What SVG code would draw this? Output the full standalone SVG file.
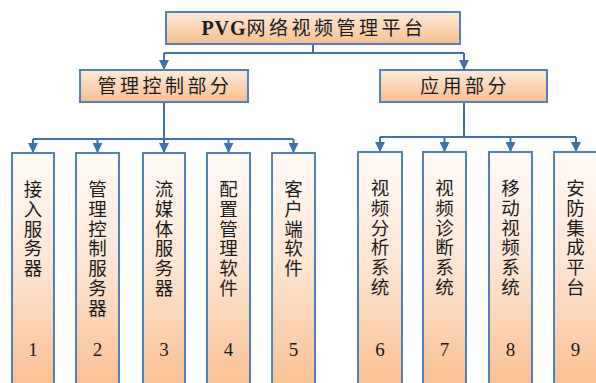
<svg xmlns="http://www.w3.org/2000/svg" width="596" height="383" viewBox="0 0 596 383">
<defs>
<linearGradient id="gH" x1="0" y1="0" x2="0" y2="1">
<stop offset="0" stop-color="#fdeadb"/>
<stop offset="1" stop-color="#f9bf8e"/>
</linearGradient>
<linearGradient id="gV" x1="0" y1="0" x2="0" y2="1">
<stop offset="0" stop-color="#fffbf8"/>
<stop offset="0.45" stop-color="#fde6d4"/>
<stop offset="1" stop-color="#f8bf90"/>
</linearGradient>
<marker id="arr" viewBox="0 0 10 10" refX="10" refY="5" markerWidth="5" markerHeight="5" markerUnits="strokeWidth" orient="auto">
<path d="M0,0 L10,5 L0,10 Z" fill="#3e72ae"/>
</marker>
</defs>
<style>
.box{stroke:#4f81bd;stroke-width:2}
.h{fill:url(#gH)}
.v{fill:url(#gV)}
.ln{fill:none;stroke:#3e72ae;stroke-width:2}
text{fill:#1b1b1b;font-family:"Liberation Serif","Noto Sans CJK SC",serif}
.t{font-size:19px;text-anchor:middle;letter-spacing:3.5px}
.c{font-size:18.5px;text-anchor:middle}
.n{font-size:19px;text-anchor:middle}
</style>
<rect width="596" height="383" fill="#ffffff"/>
<g id="connectors">
<path class="ln" d="M313,44 V53"/>
<path class="ln" d="M164,53 H464"/>
<path class="ln" d="M164,53 V70" marker-end="url(#arr)"/>
<path class="ln" d="M464,53 V70" marker-end="url(#arr)"/>
<path class="ln" d="M164,102 V139"/>
<path class="ln" d="M33,139 H293.5"/>
<path class="ln" d="M33,139 V153" marker-end="url(#arr)"/>
<path class="ln" d="M97.5,139 V153" marker-end="url(#arr)"/>
<path class="ln" d="M164,139 V153" marker-end="url(#arr)"/>
<path class="ln" d="M228.5,139 V153" marker-end="url(#arr)"/>
<path class="ln" d="M293.5,139 V153" marker-end="url(#arr)"/>
<path class="ln" d="M464,102 V137"/>
<path class="ln" d="M380,137 H576"/>
<path class="ln" d="M380,137 V152" marker-end="url(#arr)"/>
<path class="ln" d="M444.5,137 V152" marker-end="url(#arr)"/>
<path class="ln" d="M510.5,137 V152" marker-end="url(#arr)"/>
<path class="ln" d="M576,137 V152" marker-end="url(#arr)"/>
</g>
<g id="root">
<rect class="box h" x="166" y="12" width="294" height="32"/>
<text class="t" x="314" y="35"><tspan font-weight="bold" letter-spacing="1px" font-size="20px">PVG</tspan>网络视频管理平台</text>
</g>
<g id="mgmt">
<rect class="box h" x="80" y="70" width="168" height="32"/>
<text class="t" x="165" y="93">管理控制部分</text>
</g>
<g id="app">
<rect class="box h" x="380" y="70" width="167" height="32"/>
<text class="t" x="465" y="93">应用部分</text>
</g>
<g id="n1">
<rect class="box v" x="12" y="153" width="42" height="240"/>
<text class="c" x="33"><tspan x="33" y="196">接</tspan><tspan x="33" y="215.8">入</tspan><tspan x="33" y="235.6">服</tspan><tspan x="33" y="255.4">务</tspan><tspan x="33" y="275.2">器</tspan></text>
<text class="n" x="33" y="356">1</text>
</g>
<g id="n2">
<rect class="box v" x="76" y="153" width="43" height="240"/>
<text class="c" x="97.5"><tspan x="97.5" y="196">管</tspan><tspan x="97.5" y="215.8">理</tspan><tspan x="97.5" y="235.6">控</tspan><tspan x="97.5" y="255.4">制</tspan><tspan x="97.5" y="275.2">服</tspan><tspan x="97.5" y="295">务</tspan><tspan x="97.5" y="314.8">器</tspan></text>
<text class="n" x="97.5" y="356">2</text>
</g>
<g id="n3">
<rect class="box v" x="143" y="153" width="42" height="240"/>
<text class="c" x="164"><tspan x="164" y="196">流</tspan><tspan x="164" y="215.8">媒</tspan><tspan x="164" y="235.6">体</tspan><tspan x="164" y="255.4">服</tspan><tspan x="164" y="275.2">务</tspan><tspan x="164" y="295">器</tspan></text>
<text class="n" x="164" y="356">3</text>
</g>
<g id="n4">
<rect class="box v" x="207" y="153" width="43" height="240"/>
<text class="c" x="228.5"><tspan x="228.5" y="196">配</tspan><tspan x="228.5" y="215.8">置</tspan><tspan x="228.5" y="235.6">管</tspan><tspan x="228.5" y="255.4">理</tspan><tspan x="228.5" y="275.2">软</tspan><tspan x="228.5" y="295">件</tspan></text>
<text class="n" x="228.5" y="356">4</text>
</g>
<g id="n5">
<rect class="box v" x="272" y="153" width="43" height="240"/>
<text class="c" x="293.5"><tspan x="293.5" y="196">客</tspan><tspan x="293.5" y="215.8">户</tspan><tspan x="293.5" y="235.6">端</tspan><tspan x="293.5" y="255.4">软</tspan><tspan x="293.5" y="275.2">件</tspan></text>
<text class="n" x="293.5" y="356">5</text>
</g>
<g id="n6">
<rect class="box v" x="358" y="152" width="44" height="240"/>
<text class="c" x="380"><tspan x="380" y="195">视</tspan><tspan x="380" y="214.8">频</tspan><tspan x="380" y="234.6">分</tspan><tspan x="380" y="254.4">析</tspan><tspan x="380" y="274.2">系</tspan><tspan x="380" y="294">统</tspan></text>
<text class="n" x="380" y="356">6</text>
</g>
<g id="n7">
<rect class="box v" x="423" y="152" width="43" height="240"/>
<text class="c" x="444.5"><tspan x="444.5" y="195">视</tspan><tspan x="444.5" y="214.8">频</tspan><tspan x="444.5" y="234.6">诊</tspan><tspan x="444.5" y="254.4">断</tspan><tspan x="444.5" y="274.2">系</tspan><tspan x="444.5" y="294">统</tspan></text>
<text class="n" x="444.5" y="356">7</text>
</g>
<g id="n8">
<rect class="box v" x="489" y="152" width="43" height="240"/>
<text class="c" x="510.5"><tspan x="510.5" y="195">移</tspan><tspan x="510.5" y="214.8">动</tspan><tspan x="510.5" y="234.6">视</tspan><tspan x="510.5" y="254.4">频</tspan><tspan x="510.5" y="274.2">系</tspan><tspan x="510.5" y="294">统</tspan></text>
<text class="n" x="510.5" y="356">8</text>
</g>
<g id="n9">
<rect class="box v" x="554" y="152" width="43" height="240"/>
<text class="c" x="575.5"><tspan x="575.5" y="195">安</tspan><tspan x="575.5" y="214.8">防</tspan><tspan x="575.5" y="234.6">集</tspan><tspan x="575.5" y="254.4">成</tspan><tspan x="575.5" y="274.2">平</tspan><tspan x="575.5" y="294">台</tspan></text>
<text class="n" x="575.5" y="356">9</text>
</g>
</svg>
